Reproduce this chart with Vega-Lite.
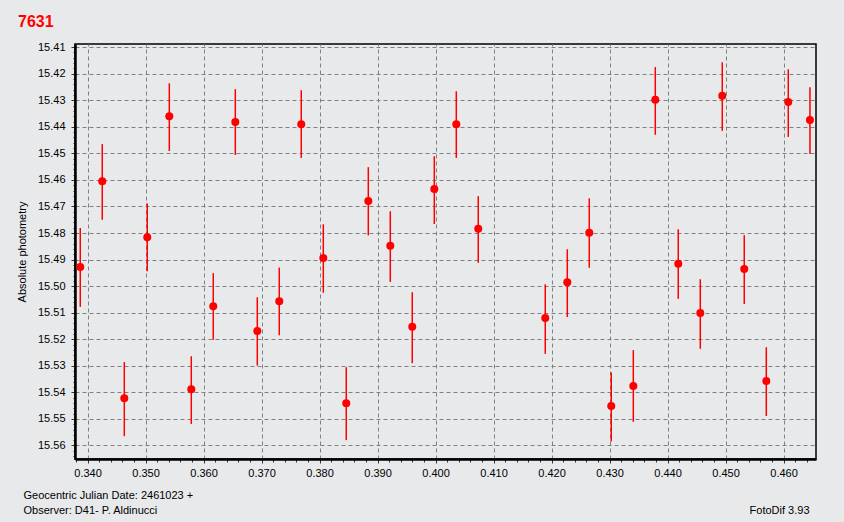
{
  "$schema": "https://vega.github.io/schema/vega-lite/v6.json",
  "width": 741,
  "height": 415,
  "autosize": {"type": "none"},
  "padding": {"left": 75, "top": 44, "right": 28, "bottom": 63},
  "background": "#e8e9eb",
  "title": {"text": "7631", "anchor": "start", "frame": "group", "color": "#ff0000", "fontSize": 16, "fontWeight": "bold", "font": "Liberation Sans", "dx": -57, "dy": 21, "offset": 19, "baseline": "alphabetic"},
  "config": {
    "view": {"stroke": "#000000", "strokeWidth": 1.5},
    "axis": {"labelFont": "Liberation Sans", "titleFont": "Liberation Sans", "labelColor": "#000000", "titleColor": "#000000", "labelFontSize": 11, "titleFontSize": 11, "titleFontWeight": "normal"}
  },
  "data": {"values": [
    {"t": 0.33874, "mag": 15.4928, "lo": 15.4781, "hi": 15.5078},
    {"t": 0.34253, "mag": 15.4605, "lo": 15.4465, "hi": 15.4750},
    {"t": 0.34633, "mag": 15.5422, "lo": 15.5286, "hi": 15.5565},
    {"t": 0.35029, "mag": 15.4816, "lo": 15.4689, "hi": 15.4944},
    {"t": 0.35409, "mag": 15.4360, "lo": 15.4236, "hi": 15.4491},
    {"t": 0.35788, "mag": 15.5388, "lo": 15.5264, "hi": 15.5519},
    {"t": 0.36167, "mag": 15.5076, "lo": 15.4951, "hi": 15.5202},
    {"t": 0.36547, "mag": 15.4382, "lo": 15.4258, "hi": 15.4506},
    {"t": 0.36926, "mag": 15.5169, "lo": 15.5042, "hi": 15.5299},
    {"t": 0.37305, "mag": 15.5057, "lo": 15.4930, "hi": 15.5185},
    {"t": 0.37684, "mag": 15.4390, "lo": 15.4262, "hi": 15.4517},
    {"t": 0.38064, "mag": 15.4894, "lo": 15.4767, "hi": 15.5025},
    {"t": 0.38460, "mag": 15.5441, "lo": 15.5305, "hi": 15.5580},
    {"t": 0.38840, "mag": 15.4679, "lo": 15.4552, "hi": 15.4809},
    {"t": 0.39219, "mag": 15.4848, "lo": 15.4718, "hi": 15.4984},
    {"t": 0.39598, "mag": 15.5153, "lo": 15.5023, "hi": 15.5290},
    {"t": 0.39978, "mag": 15.4634, "lo": 15.4511, "hi": 15.4766},
    {"t": 0.40357, "mag": 15.4390, "lo": 15.4266, "hi": 15.4517},
    {"t": 0.40736, "mag": 15.4784, "lo": 15.4661, "hi": 15.4912},
    {"t": 0.41891, "mag": 15.5120, "lo": 15.4993, "hi": 15.5255},
    {"t": 0.42271, "mag": 15.4985, "lo": 15.4861, "hi": 15.5116},
    {"t": 0.42650, "mag": 15.4799, "lo": 15.4669, "hi": 15.4931},
    {"t": 0.43029, "mag": 15.5451, "lo": 15.5325, "hi": 15.5585},
    {"t": 0.43409, "mag": 15.5376, "lo": 15.5241, "hi": 15.5511},
    {"t": 0.43788, "mag": 15.4298, "lo": 15.4175, "hi": 15.4430},
    {"t": 0.44184, "mag": 15.4916, "lo": 15.4786, "hi": 15.5048},
    {"t": 0.44564, "mag": 15.5101, "lo": 15.4974, "hi": 15.5236},
    {"t": 0.44943, "mag": 15.4283, "lo": 15.4157, "hi": 15.4415},
    {"t": 0.45322, "mag": 15.4935, "lo": 15.4808, "hi": 15.5067},
    {"t": 0.45702, "mag": 15.5357, "lo": 15.5230, "hi": 15.5489},
    {"t": 0.46081, "mag": 15.4306, "lo": 15.4183, "hi": 15.4438},
    {"t": 0.46455, "mag": 15.4374, "lo": 15.4251, "hi": 15.4502}
  ]},
  "layer": [
    {
      "mark": {"type": "rule", "color": "#ff0000", "strokeWidth": 1.5},
      "encoding": {
        "x": {
          "field": "t", "type": "quantitative",
          "scale": {"domain": [0.33783, 0.46559], "nice": false, "zero": false},
          "axis": {
            "orient": "bottom",
            "values": [0.338,0.340,0.342,0.344,0.346,0.348,0.350,0.352,0.354,0.356,0.358,0.360,0.362,0.364,0.366,0.368,0.370,0.372,0.374,0.376,0.378,0.380,0.382,0.384,0.386,0.388,0.390,0.392,0.394,0.396,0.398,0.400,0.402,0.404,0.406,0.408,0.410,0.412,0.414,0.416,0.418,0.420,0.422,0.424,0.426,0.428,0.430,0.432,0.434,0.436,0.438,0.440,0.442,0.444,0.446,0.448,0.450,0.452,0.454,0.456,0.458,0.460,0.462,0.464],
            "tickCount": 500,
            "labelExpr": "abs(datum.value*100 - round(datum.value*100)) < 0.01 ? format(datum.value, '.3f') : ''",
            "labelPadding": 4,
            "labelFlush": false,
            "labelOverlap": false,
            "domainColor": "#000000",
            "domainWidth": 2.5,
            "tickColor": "#333333",
            "tickSize": {"condition": {"test": "abs(datum.value*100 - round(datum.value*100)) < 0.01", "value": 4}, "value": 3},
            "grid": true,
            "gridColor": "#808080",
            "gridDash": [4, 3],
            "gridWidth": 1,
            "gridOpacity": {"condition": {"test": "abs(datum.value*100 - round(datum.value*100)) < 0.01", "value": 1}, "value": 0},
            "title": ["Geocentric Julian Date: 2461023 +", "Observer: D41- P. Aldinucci"],
            "titleX": -52,
            "titleY": 39,
            "titleAlign": "left",
            "titleAnchor": "start",
            "titleBaseline": "alphabetic",
            "titleLineHeight": 15
          }
        },
        "y": {
          "field": "lo", "type": "quantitative",
          "scale": {"domain": [15.4088, 15.5651], "reverse": true, "nice": false, "zero": false},
          "axis": {
            "values": [15.410,15.412,15.414,15.416,15.418,15.420,15.422,15.424,15.426,15.428,15.430,15.432,15.434,15.436,15.438,15.440,15.442,15.444,15.446,15.448,15.450,15.452,15.454,15.456,15.458,15.460,15.462,15.464,15.466,15.468,15.470,15.472,15.474,15.476,15.478,15.480,15.482,15.484,15.486,15.488,15.490,15.492,15.494,15.496,15.498,15.500,15.502,15.504,15.506,15.508,15.510,15.512,15.514,15.516,15.518,15.520,15.522,15.524,15.526,15.528,15.530,15.532,15.534,15.536,15.538,15.540,15.542,15.544,15.546,15.548,15.550,15.552,15.554,15.556,15.558,15.560,15.562,15.564],
            "tickCount": 500,
            "labelExpr": "abs(datum.value*100 - round(datum.value*100)) < 0.01 ? format(datum.value, '.2f') : ''",
            "labelPadding": 6,
            "labelFlush": false,
            "labelOverlap": false,
            "domainColor": "#000000",
            "domainWidth": 2.5,
            "tickColor": "#333333",
            "tickSize": {"condition": {"test": "abs(datum.value*100 - round(datum.value*100)) < 0.01", "value": 4}, "value": 2},
            "grid": true,
            "gridColor": "#808080",
            "gridDash": [4, 3],
            "gridWidth": 1,
            "gridOpacity": {"condition": {"test": "abs(datum.value*100 - round(datum.value*100)) < 0.01", "value": 1}, "value": 0},
            "title": "Absolute photometry",
            "titleX": -53,
            "titleY": 207.5,
            "titleAngle": -90,
            "titleAlign": "center",
            "titleBaseline": "middle"
          }
        },
        "y2": {"field": "hi"}
      }
    },
    {
      "mark": {"type": "point", "filled": true, "shape": "circle", "size": 64, "color": "#ff0000", "opacity": 1},
      "encoding": {
        "x": {
          "field": "t", "type": "quantitative",
          "axis": {
            "orient": "top",
            "domain": false,
            "ticks": false,
            "labels": false,
            "grid": false,
            "title": "FotoDif 3.93",
            "titleX": 734,
            "titleY": 469,
            "titleAlign": "right",
            "titleAnchor": "end",
            "titleAngle": 0,
            "titleBaseline": "alphabetic"
          }
        },
        "y": {"field": "mag", "type": "quantitative", "axis": {"title": "Absolute photometry", "tickCount": 500}}
      }
    }
  ],
  "resolve": {"axis": {"x": "independent"}}
}
